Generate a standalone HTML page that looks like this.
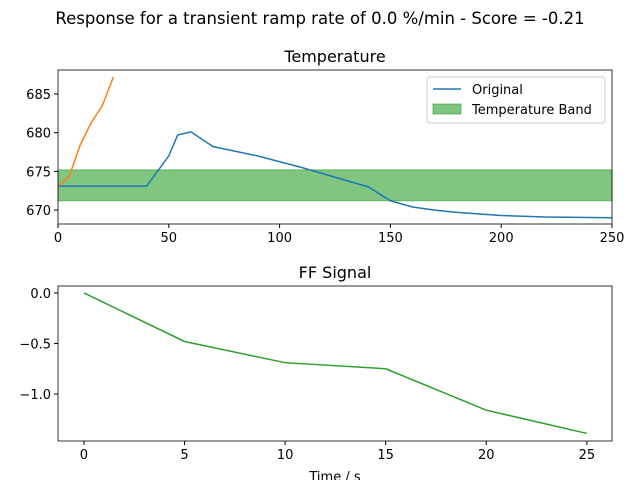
<!DOCTYPE html>
<html><head><meta charset="utf-8"><style>
body{margin:0;background:#fff;font-family:"Liberation Sans","DejaVu Sans",sans-serif}
svg text{font-family:"DejaVu Sans","Liberation Sans",sans-serif}
</style></head><body>
<svg id="c" width="640" height="480" xmlns="http://www.w3.org/2000/svg">
<text x="320" y="24" font-size="16.5" text-anchor="middle">Response for a transient ramp rate of 0.0 %/min - Score = -0.21</text>
<text x="335" y="62" font-size="16" text-anchor="middle">Temperature</text>
<text x="335" y="278" font-size="16" text-anchor="middle">FF Signal</text>
<text x="335" y="481" font-size="13" text-anchor="middle">Time / s</text>
<g id="g1"></g><g id="g2"></g>
</svg>
<script>
const bandLow=671.2, bandHigh=675.2;
const origX=[0,40,50,54,60,70,90,110,140,150,160,170,180,200,220,250];
const origY=[673.1,673.1,677,679.7,680.1,678.2,677,675.5,673,671.2,670.4,670,669.7,669.3,669.1,669];
const rampX=[0,5,10,15,20,25];
const rampY=[673.1,674.3,678.4,681.3,683.5,687.2];
const topXTicks=[0,50,100,150,200,250];
const topYTicks=[670,675,680,685];
const ffX=[0,5,10,15,20,25];
const ffY=[0,-0.48,-0.69,-0.75,-1.16,-1.39];
const botXTicks=[0,5,10,15,20,25];
const botYTicks=[0,-0.5,-1.0];
const botYLabels=["0.0","−0.5","−1.0"];
const NS="http://www.w3.org/2000/svg";
function mk(p,t,a){const e=document.createElementNS(NS,t);for(const k in a)e.setAttribute(k,a[k]);p.appendChild(e);return e;}
const g1=document.getElementById('g1');
const L1=58,R1=612,T1=70,B1=224,x1=v=>L1+(v-0)/250*(R1-L1),y1=v=>B1-(v-668.2)/(688.1-668.2)*(B1-T1);
let band=mk(g1,'rect',{x:L1,y:y1(bandHigh),width:R1-L1,height:y1(bandLow)-y1(bandHigh),fill:'#2ca02c','fill-opacity':0.6,stroke:'#2ca02c','stroke-opacity':0.6});


let l=mk(g1,'polyline',{points:origX.map((v,i)=>x1(v)+','+y1(origY[i])).join(' '),fill:'none',stroke:'#1f77b4','stroke-width':1.5});


const cp=mk(g1,'clipPath',{id:'cp1'});
mk(cp,'rect',{x:L1,y:T1,width:R1-L1,height:B1-T1});
l=mk(g1,'polyline',{points:rampX.map((v,i)=>x1(v)+','+y1(rampY[i])).join(' '),fill:'none',stroke:'#ff7f0e','stroke-width':1.5,'clip-path':'url(#cp1)'});


mk(g1,'rect',{x:L1,y:T1,width:R1-L1,height:B1-T1,fill:'none',stroke:'#000','stroke-width':0.8});
topXTicks.forEach(v=>{mk(g1,'line',{x1:x1(v),x2:x1(v),y1:B1,y2:B1+4,stroke:'#000'});const t=mk(g1,'text',{x:x1(v),y:B1+18,'font-size':13,'text-anchor':'middle'});t.textContent=v;});
topYTicks.forEach(v=>{mk(g1,'line',{x1:L1-4,x2:L1,y1:y1(v),y2:y1(v),stroke:'#000'});const t=mk(g1,'text',{x:L1-7,y:y1(v)+5,'font-size':13,'text-anchor':'end'});t.textContent=v;});
const lg=mk(g1,'g',{});


mk(lg,'rect',{x:427,y:77,width:178,height:46,rx:3,fill:'#fff',stroke:'#ccc'});
mk(lg,'line',{x1:433,x2:461,y1:89,y2:89,stroke:'#1f77b4','stroke-width':1.5});
let t=mk(lg,'text',{x:472,y:94,'font-size':13});t.textContent='Original';
mk(lg,'rect',{x:433,y:104,width:28,height:10,fill:'#2ca02c','fill-opacity':0.6,stroke:'#2ca02c','stroke-opacity':0.6});
t=mk(lg,'text',{x:472,y:114,'font-size':13});t.textContent='Temperature Band';
const g2=document.getElementById('g2');
const L2=58,R2=612,T2=286,B2=441,x2=v=>L2+(v+1.29)/(26.25+1.29)*(R2-L2),y2=v=>B2-(v+1.465)/(0.069+1.465)*(B2-T2);
l=mk(g2,'polyline',{points:ffX.map((v,i)=>x2(v)+','+y2(ffY[i])).join(' '),fill:'none',stroke:'#2ca02c','stroke-width':1.5});


mk(g2,'rect',{x:L2,y:T2,width:R2-L2,height:B2-T2,fill:'none',stroke:'#000','stroke-width':0.8});
botXTicks.forEach(v=>{mk(g2,'line',{x1:x2(v),x2:x2(v),y1:B2,y2:B2+4,stroke:'#000'});const t=mk(g2,'text',{x:x2(v),y:B2+18,'font-size':13,'text-anchor':'middle'});t.textContent=v;});
botYTicks.forEach((v,i)=>{mk(g2,'line',{x1:L2-4,x2:L2,y1:y2(v),y2:y2(v),stroke:'#000'});const t=mk(g2,'text',{x:L2-7,y:y2(v)+5,'font-size':13,'text-anchor':'end'});t.textContent=botYLabels[i];});
</script>
</body></html>
